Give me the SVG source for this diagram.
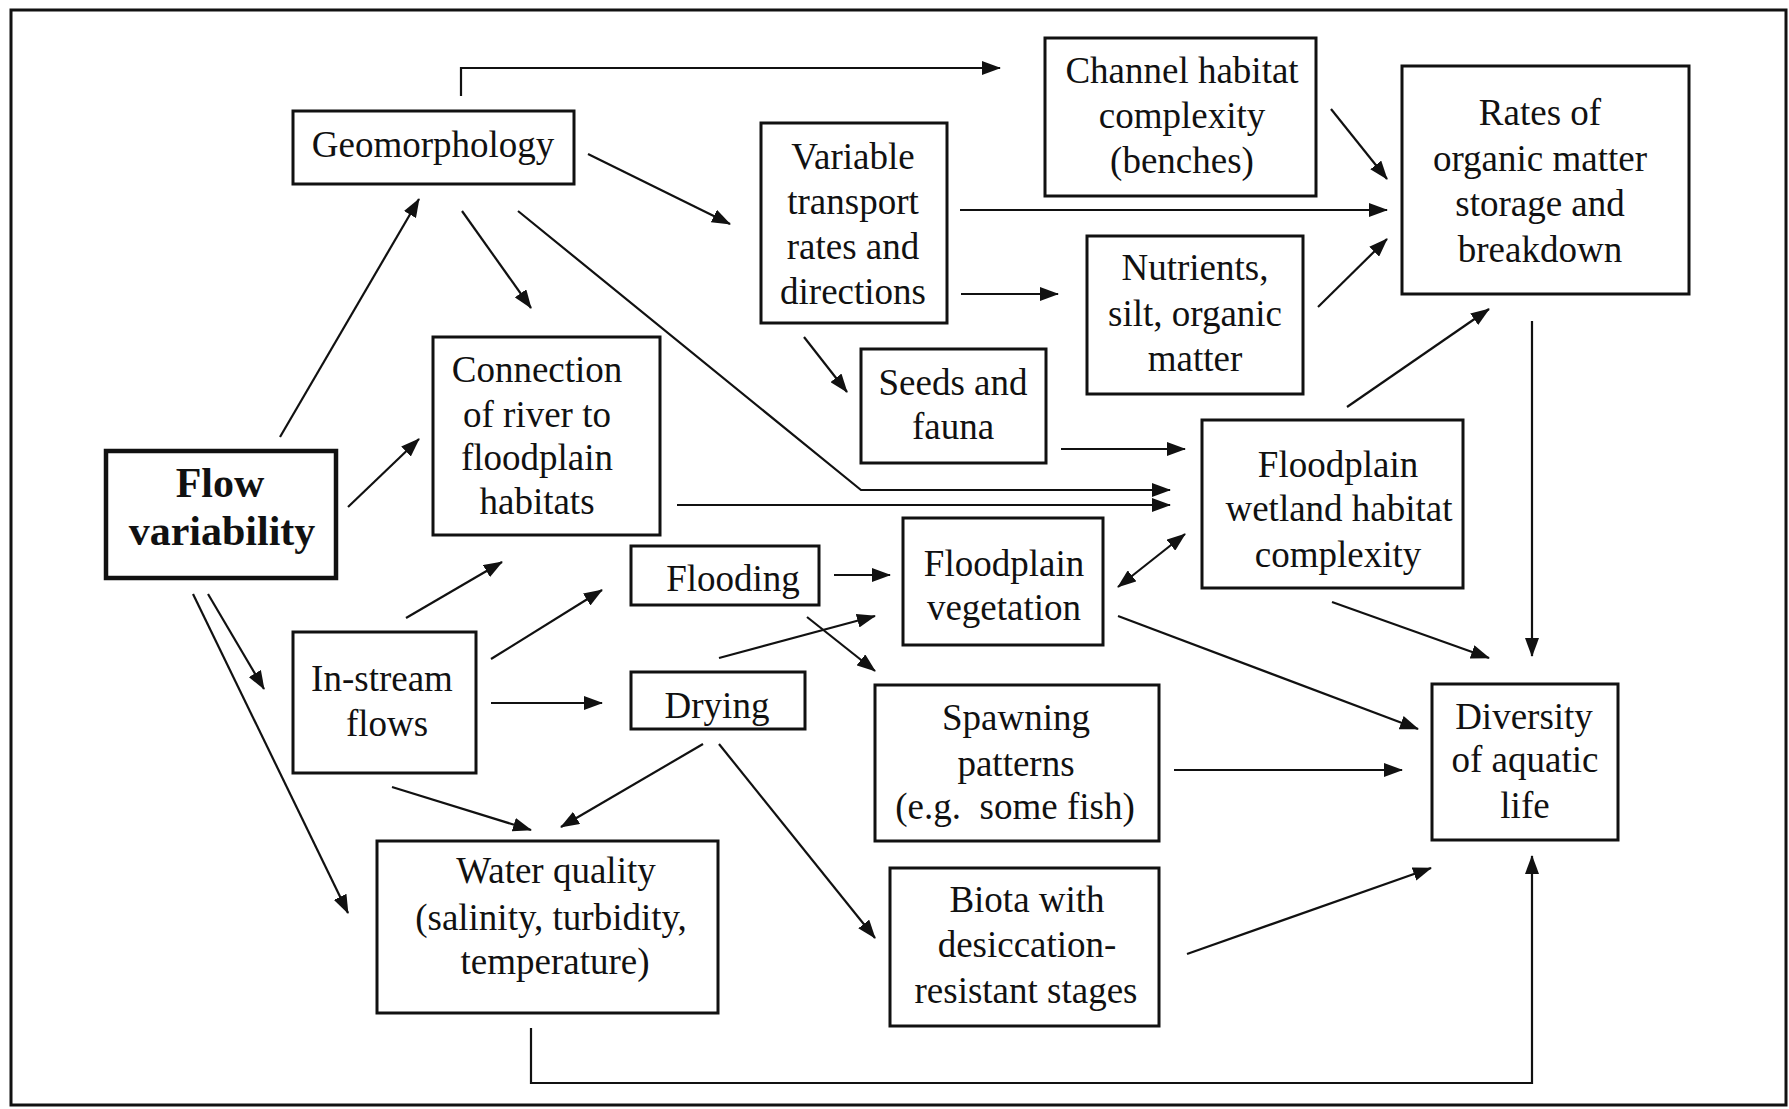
<svg xmlns="http://www.w3.org/2000/svg" width="1789" height="1109" viewBox="0 0 1789 1109">
  <style>
    .box { fill: #fff; stroke: #111; stroke-width: 3; }
    .box-main { fill: #fff; stroke: #111; stroke-width: 4.5; }
    .lbl { font-family: "Liberation Serif", "Times New Roman", serif; font-size: 37px; fill: #111; text-anchor: middle; }
    .lbl-bold { font-family: "Liberation Serif", "Times New Roman", serif; font-size: 42px; font-weight: bold; fill: #111; text-anchor: middle; }
    .edge { fill: none; stroke: #111; stroke-width: 2.2; marker-end: url(#arrow); }
  </style>
  <defs>
    <marker id="arrow" viewBox="0 0 19 14" refX="18" refY="7" markerWidth="19" markerHeight="14" markerUnits="userSpaceOnUse" orient="auto-start-reverse">
      <path d="M0,0 L19,7 L0,14 Z" fill="#111"/>
    </marker>
  </defs>

  <rect width="1789" height="1109" fill="#fff"/>
  <!-- outer frame -->
  <rect x="11" y="10" width="1775" height="1095" fill="none" stroke="#111" stroke-width="3"/>

  <!-- connectors -->
  <g id="connectors">
    <path class="edge" d="M461,96 V68 H1000"/>
    <path class="edge" d="M588,154 L730,224"/>
    <path class="edge" d="M462,211 L531,308"/>
    <path class="edge" d="M518,211 L861,490 H1170"/>
    <path class="edge" d="M677,505 H1170"/>
    <path class="edge" d="M280,437 L419,199"/>
    <path class="edge" d="M348,507 L419,439"/>
    <path class="edge" d="M208,594 L264,689"/>
    <path class="edge" d="M193,594 L348,913"/>
    <path class="edge" d="M406,618 L502,562"/>
    <path class="edge" d="M491,659 L602,590"/>
    <path class="edge" d="M491,703 H602"/>
    <path class="edge" d="M392,787 L531,830"/>
    <path class="edge" d="M703,744 L561,827"/>
    <path class="edge" d="M719,744 L875,938"/>
    <path class="edge" d="M719,658 L875,616"/>
    <path class="edge" d="M807,617 L875,671"/>
    <path class="edge" d="M834,575 H890"/>
    <path class="edge" d="M804,337 L847,392"/>
    <path class="edge" d="M960,210 H1387"/>
    <path class="edge" d="M961,294 H1058"/>
    <path class="edge" d="M1331,109 L1387,179"/>
    <path class="edge" d="M1318,307 L1387,239"/>
    <path class="edge" d="M1347,407 L1489,309"/>
    <path class="edge" d="M1061,449 H1185"/>
    <path class="edge" style="marker-start: url(#arrow)" d="M1118,587 L1185,534"/>
    <path class="edge" d="M1532,321 V656"/>
    <path class="edge" d="M1332,602 L1489,658"/>
    <path class="edge" d="M1118,616 L1418,729"/>
    <path class="edge" d="M1174,770 H1402"/>
    <path class="edge" d="M1187,954 L1431,868"/>
    <path class="edge" d="M531,1028 V1083 H1532 V856"/>
  </g>

  <!-- nodes -->
  <g id="geomorphology">
    <rect class="box" x="293" y="111" width="281" height="73"/>
    <text class="lbl" x="433" y="157">Geomorphology</text>
  </g>
  <g id="flow-variability">
    <rect class="box-main" x="106" y="451" width="230" height="127"/>
    <text class="lbl-bold" x="220" y="497">Flow</text>
    <text class="lbl-bold" x="222" y="545">variability</text>
  </g>
  <g id="connection">
    <rect class="box" x="433" y="337" width="227" height="198"/>
    <text class="lbl" x="537" y="382">Connection</text>
    <text class="lbl" x="537" y="427">of river to</text>
    <text class="lbl" x="537" y="470">floodplain</text>
    <text class="lbl" x="537" y="514">habitats</text>
  </g>
  <g id="variable-transport">
    <rect class="box" x="761" y="123" width="186" height="200"/>
    <text class="lbl" x="853" y="169">Variable</text>
    <text class="lbl" x="853" y="214">transport</text>
    <text class="lbl" x="853" y="259">rates and</text>
    <text class="lbl" x="853" y="304">directions</text>
  </g>
  <g id="channel-habitat">
    <rect class="box" x="1045" y="38" width="271" height="158"/>
    <text class="lbl" x="1182" y="83">Channel habitat</text>
    <text class="lbl" x="1182" y="128">complexity</text>
    <text class="lbl" x="1182" y="173">(benches)</text>
  </g>
  <g id="organic-matter-rates">
    <rect class="box" x="1402" y="66" width="287" height="228"/>
    <text class="lbl" x="1540" y="125">Rates of</text>
    <text class="lbl" x="1540" y="171">organic matter</text>
    <text class="lbl" x="1540" y="216">storage and</text>
    <text class="lbl" x="1540" y="262">breakdown</text>
  </g>
  <g id="nutrients">
    <rect class="box" x="1087" y="236" width="216" height="158"/>
    <text class="lbl" x="1195" y="280">Nutrients,</text>
    <text class="lbl" x="1195" y="326">silt, organic</text>
    <text class="lbl" x="1195" y="371">matter</text>
  </g>
  <g id="seeds-fauna">
    <rect class="box" x="861" y="349" width="185" height="114"/>
    <text class="lbl" x="953" y="395">Seeds and</text>
    <text class="lbl" x="953" y="439">fauna</text>
  </g>
  <g id="floodplain-wetland">
    <rect class="box" x="1202" y="420" width="261" height="168"/>
    <text class="lbl" x="1338" y="477">Floodplain</text>
    <text class="lbl" x="1339" y="521">wetland habitat</text>
    <text class="lbl" x="1338" y="567">complexity</text>
  </g>
  <g id="flooding">
    <rect class="box" x="631" y="546" width="188" height="59"/>
    <text class="lbl" x="733" y="591">Flooding</text>
  </g>
  <g id="floodplain-vegetation">
    <rect class="box" x="903" y="518" width="200" height="127"/>
    <text class="lbl" x="1004" y="576">Floodplain</text>
    <text class="lbl" x="1004" y="620">vegetation</text>
  </g>
  <g id="in-stream-flows">
    <rect class="box" x="293" y="632" width="183" height="141"/>
    <text class="lbl" x="382" y="691">In-stream</text>
    <text class="lbl" x="387" y="736">flows</text>
  </g>
  <g id="drying">
    <rect class="box" x="631" y="672" width="174" height="57"/>
    <text class="lbl" x="717" y="718">Drying</text>
  </g>
  <g id="spawning">
    <rect class="box" x="875" y="685" width="284" height="156"/>
    <text class="lbl" x="1016" y="730">Spawning</text>
    <text class="lbl" x="1016" y="776">patterns</text>
    <text class="lbl" x="1015" y="819" xml:space="preserve">(e.g.  some fish)</text>
  </g>
  <g id="aquatic-diversity">
    <rect class="box" x="1432" y="684" width="186" height="156"/>
    <text class="lbl" x="1524" y="729">Diversity</text>
    <text class="lbl" x="1525" y="772">of aquatic</text>
    <text class="lbl" x="1525" y="818">life</text>
  </g>
  <g id="water-quality">
    <rect class="box" x="377" y="841" width="341" height="172"/>
    <text class="lbl" x="556" y="883">Water quality</text>
    <text class="lbl" x="551" y="930">(salinity, turbidity,</text>
    <text class="lbl" x="555" y="974">temperature)</text>
  </g>
  <g id="biota">
    <rect class="box" x="890" y="868" width="269" height="158"/>
    <text class="lbl" x="1027" y="912">Biota with</text>
    <text class="lbl" x="1027" y="957">desiccation-</text>
    <text class="lbl" x="1026" y="1003">resistant stages</text>
  </g>
</svg>
